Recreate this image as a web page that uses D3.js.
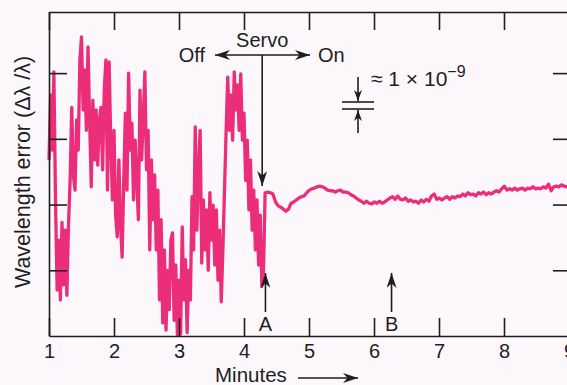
<!DOCTYPE html>
<html>
<head>
<meta charset="utf-8">
<script src="https://cdn.jsdelivr.net/npm/d3@7"></script>
<style>
  body { margin: 0; background: #fbf7fb; }
  svg { display: block; font-family: "Liberation Sans", Arial, sans-serif; }
</style>
</head>
<body>
<svg id="chart" width="567" height="385"></svg>
<script>
// tick values
const minuteTicks = [1, 2, 3, 4, 5, 6, 7, 8, 9];
const errorTicks = [10, 20, 30, 40];

// wavelength error (units of 1e-9) with the servo off, sampled every 0.025 min from 1.0 min
const servoOffStart = 1.0;
const servoOffStep = 0.025;
const servoOffError = [
  26.8, 36.7, 28.3, 40.2, 20.7, 7.0, 14.6, 5.5, 17.3, 7.8,
  16.1, 6.2, 16.9, 23.7, 34.8, 24.5, 22.2, 32.9, 28.3, 42.0,
  45.5, 34.4, 40.5, 31.3, 44.0, 32.9, 22.7, 35.9, 26.8, 34.4,
  26.0, 32.9, 34.8, 25.3, 37.4, 42.0, 22.2, 41.7, 29.8, 20.7,
  31.3, 18.4, 15.1, 26.8, 16.9, 12.0, 23.7, 33.9, 22.2, 40.0,
  28.3, 32.4, 20.7, 29.8, 23.7, 17.7, 37.4, 26.8, 32.9, 40.2,
  25.3, 31.3, 13.1, 26.8, 17.7, 24.5, 13.1, 22.2, 5.5, 17.7,
  2.0, 13.1, 0.9, 10.0, 4.0, 14.6, 15.7, 2.4, 10.8, 0.2,
  8.5, 0.3, 16.6, 5.5, 11.6, 0.5, 10.0, 5.5, 21.2, 13.1,
  31.8, 16.1, 25.3, 31.3, 11.1, 20.7, 13.1, 19.2, 10.0, 21.8,
  14.6, 19.9, 10.8, 19.2, 8.5, 16.1, 5.2, 13.1, 22.2, 31.3,
  39.4, 31.3, 36.7, 29.8, 40.2, 34.4, 38.2, 31.3, 39.9, 29.8,
  33.9, 23.7, 29.8, 19.2, 26.8, 16.1, 22.2, 13.1, 20.7, 10.8,
  18.4, 7.5, 10.0
];

// wavelength error with the servo on, sampled every 0.04 min from 4.325 min
const servoOnStart = 4.325;
const servoOnStep = 0.04;
const servoOnError = [
  21.8, 21.9, 21.8, 21.6, 20.4, 19.8, 19.6, 19.3, 19.0, 19.3,
  20.2, 20.4, 20.7, 21.0, 21.2, 21.3, 21.8, 22.2, 22.4, 22.5,
  22.7, 22.8, 22.7, 22.5, 22.2, 22.1, 22.1, 21.9, 22.1, 22.2,
  21.9, 21.9, 21.8, 21.5, 21.3, 21.0, 20.7, 20.5, 20.2, 20.5,
  20.2, 20.1, 20.4, 20.2, 20.5, 20.2, 20.4, 20.7, 21.0, 21.2,
  20.8, 21.3, 20.8, 20.7, 21.0, 20.5, 20.7, 20.4, 20.5, 20.2,
  20.7, 20.4, 20.8, 20.5, 21.3, 21.6, 20.8, 21.0, 20.7, 21.0,
  21.2, 20.8, 21.2, 21.0, 21.3, 21.2, 21.6, 21.3, 21.8, 21.5,
  21.6, 21.3, 21.8, 21.6, 21.9, 21.5, 21.8, 21.6, 21.9, 22.1,
  21.9, 22.4, 22.8, 22.2, 22.4, 22.2, 22.5, 22.2, 22.4, 22.5,
  22.2, 22.5, 22.4, 22.7, 22.4, 22.5, 22.4, 22.7, 22.5, 23.1,
  22.1, 22.7, 22.8, 22.7, 23.0, 22.8, 22.7, 22.8
];

const ink = '#1e1e1e';
const trace = '#ec2d79';

const svg = d3.select('#chart');

// scales
const x = d3.scaleLinear().domain([1, 9]).range([49, 569]);
const y = d3.scaleLinear().domain([0, 49.3]).range([336, 12]);

// arrow heads
const defs = svg.append('defs');
function head(id, len, half) {
  defs.append('marker')
    .attr('id', id)
    .attr('viewBox', `0 0 ${len} ${half * 2}`)
    .attr('refX', len).attr('refY', half)
    .attr('markerWidth', len).attr('markerHeight', half * 2)
    .attr('markerUnits', 'userSpaceOnUse')
    .attr('orient', 'auto-start-reverse')
    .append('path')
    .attr('d', `M0,0 L${len},${half} L0,${half * 2} L${len * 0.3},${half} Z`)
    .attr('fill', ink);
}
head('head', 15, 5);
head('headSmall', 11, 4);

// the trace
const points = servoOffError.map((v, i) => [servoOffStart + i * servoOffStep, v])
  .concat(servoOnError.map((v, i) => [servoOnStart + i * servoOnStep, v]));

svg.append('path')
  .datum(points)
  .attr('fill', 'none')
  .attr('stroke', trace)
  .attr('stroke-width', 3.3)
  .attr('stroke-linejoin', 'round')
  .attr('d', d3.line().x(d => x(d[0])).y(d => y(d[1])));

// axes, ticks all pointing inward
function styleAxis(g) {
  g.selectAll('.domain, .tick line').attr('stroke', ink).attr('stroke-width', 1.6);
  g.selectAll('.tick text').attr('fill', ink).attr('font-size', 20).attr('font-family', null);
}

svg.append('g')
  .attr('transform', 'translate(0,336)')
  .call(d3.axisBottom(x).tickValues(minuteTicks).tickSize(-18).tickSizeOuter(0).tickPadding(8))
  .call(styleAxis);

svg.append('g')
  .attr('transform', 'translate(0,12)')
  .call(d3.axisTop(x).tickValues(minuteTicks).tickSize(-18).tickSizeOuter(0).tickFormat(''))
  .call(styleAxis);

svg.append('g')
  .attr('transform', 'translate(49,0)')
  .call(d3.axisLeft(y).tickValues(errorTicks).tickSize(-18).tickSizeOuter(0).tickFormat(''))
  .call(styleAxis);

svg.append('g')
  .attr('transform', 'translate(569,0)')
  .call(d3.axisRight(y).tickValues(errorTicks).tickSize(-16).tickSizeOuter(0).tickFormat(''))
  .call(styleAxis);

// axis titles
svg.append('text')
  .attr('transform', 'translate(30,172) rotate(-90)')
  .attr('text-anchor', 'middle')
  .attr('font-size', 21.5)
  .attr('fill', ink)
  .text('Wavelength error (Δλ /λ)');

svg.append('text')
  .attr('x', 215).attr('y', 382)
  .attr('font-size', 20.5)
  .attr('fill', ink)
  .text('Minutes');

function arrow(x1, y1, x2, y2, marker, both) {
  const l = svg.append('line')
    .attr('x1', x1).attr('y1', y1).attr('x2', x2).attr('y2', y2)
    .attr('stroke', ink).attr('stroke-width', 1.6)
    .attr('marker-end', `url(#${marker})`);
  if (both) l.attr('marker-start', `url(#${marker})`);
}

arrow(298, 378, 358, 378, 'head');

// servo annotation
const servoX = x(4.28);
svg.append('text').attr('x', servoX).attr('y', 47).attr('text-anchor', 'middle')
  .attr('font-size', 20).attr('fill', ink).text('Servo');
svg.append('text').attr('x', 205).attr('y', 62).attr('text-anchor', 'end')
  .attr('font-size', 20).attr('fill', ink).text('Off');
svg.append('text').attr('x', 318).attr('y', 62)
  .attr('font-size', 20).attr('fill', ink).text('On');
arrow(215, 55, 310, 55, 'head', true);
arrow(servoX, 55, servoX, 186, 'head');

// scale marker
const scaleX = 358;
svg.append('line').attr('x1', 342).attr('x2', 374).attr('y1', 102).attr('y2', 102)
  .attr('stroke', ink).attr('stroke-width', 1.6);
svg.append('line').attr('x1', 342).attr('x2', 374).attr('y1', 109).attr('y2', 109)
  .attr('stroke', ink).attr('stroke-width', 1.6);
arrow(scaleX, 77, scaleX, 101, 'headSmall');
arrow(scaleX, 133, scaleX, 110, 'headSmall');
const scaleText = svg.append('text').attr('x', 371).attr('y', 86)
  .attr('font-size', 21).attr('fill', ink);
scaleText.append('tspan').text('≈ 1 × 10');
scaleText.append('tspan').attr('dy', -9).attr('font-size', 16).text('−9');

// markers A and B
[['A', 4.33], ['B', 6.27]].forEach(([label, t]) => {
  const px = x(t);
  arrow(px, 312, px, 273, 'head');
  svg.append('text').attr('x', px).attr('y', 331).attr('text-anchor', 'middle')
    .attr('font-size', 20).attr('fill', ink).text(label);
});
</script>
</body>
</html>
